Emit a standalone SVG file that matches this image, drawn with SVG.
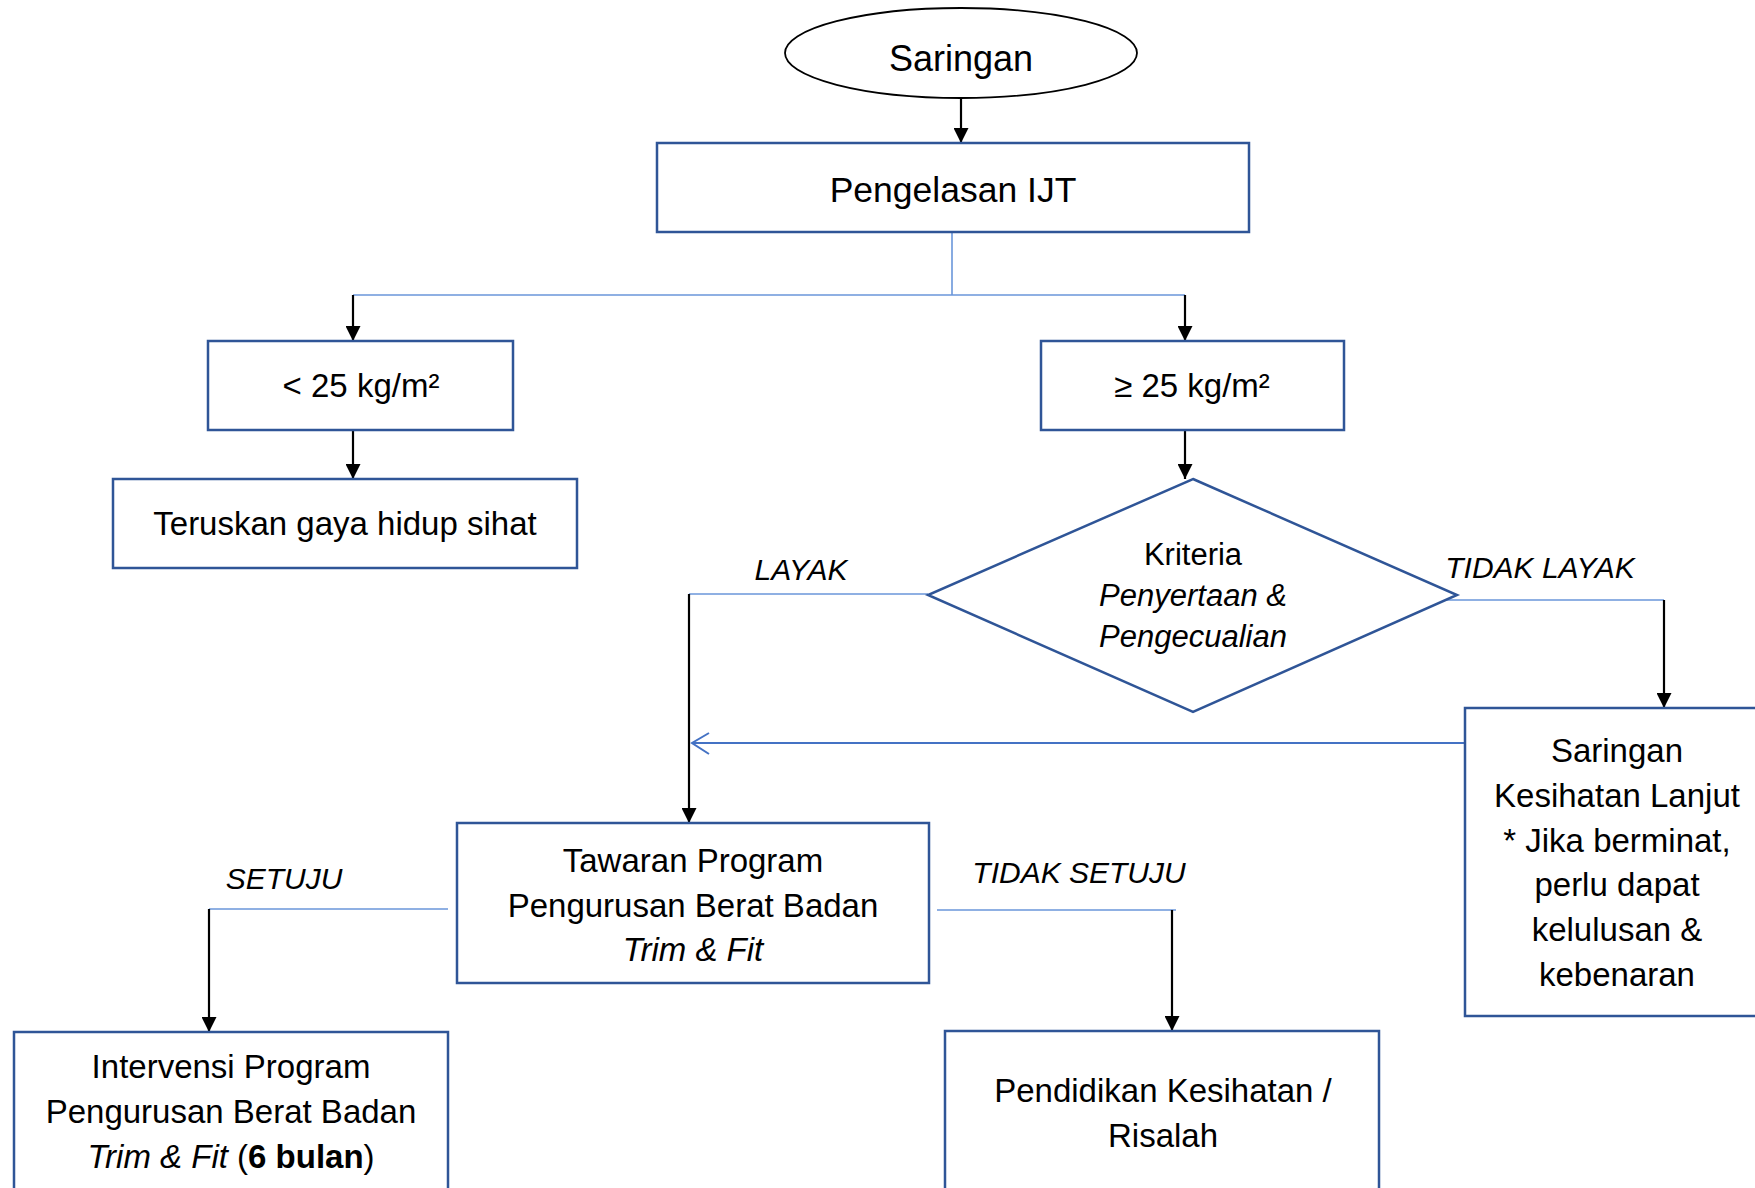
<svg xmlns="http://www.w3.org/2000/svg" width="1755" height="1188" viewBox="0 0 1755 1188">
<style>
.box{fill:#fff;stroke:#2F5597;stroke-width:2.5}
.t{font-family:"Liberation Sans",Arial,sans-serif;font-size:33px;fill:#000;text-anchor:middle}
.lbl{font-family:"Liberation Sans",Arial,sans-serif;font-size:30px;font-style:italic;fill:#000;text-anchor:middle}
.blue{fill:none;stroke:#6A96DA;stroke-width:1.6}
.blk{fill:none;stroke:#000;stroke-width:2.2}
</style>
<defs>
<marker id="ah" viewBox="0 0 15 15" refX="15" refY="7.5" markerWidth="15" markerHeight="15" markerUnits="userSpaceOnUse" orient="auto">
<path d="M0,0 L15,7.5 L0,15 z" fill="#000"/>
</marker>
</defs>
<rect width="1755" height="1188" fill="#fff"/>

<g id="connectors">
<line class="blk" x1="961" y1="98" x2="961" y2="143" marker-end="url(#ah)"/>
<polyline class="blue" points="952,232 952,295"/>
<line class="blue" x1="353" y1="295" x2="1185" y2="295"/>
<line class="blk" x1="353" y1="295" x2="353" y2="341" marker-end="url(#ah)"/>
<line class="blk" x1="1185" y1="295" x2="1185" y2="341" marker-end="url(#ah)"/>
<line class="blk" x1="353" y1="430" x2="353" y2="479" marker-end="url(#ah)"/>
<line class="blk" x1="1185" y1="430" x2="1185" y2="479" marker-end="url(#ah)"/>
<line class="blue" x1="689" y1="594" x2="928" y2="594"/>
<line class="blk" x1="689" y1="594" x2="689" y2="823" marker-end="url(#ah)"/>
<line class="blue" x1="1425" y1="600" x2="1664" y2="600"/>
<line class="blk" x1="1664" y1="600" x2="1664" y2="708" marker-end="url(#ah)"/>
<line x1="1465" y1="743" x2="692" y2="743" stroke="#4472C4" stroke-width="2"/>
<polyline points="709,733 692,743 709,754" fill="none" stroke="#4472C4" stroke-width="2"/>
<line class="blue" x1="209" y1="909" x2="448" y2="909"/>
<line class="blk" x1="209" y1="909" x2="209" y2="1032" marker-end="url(#ah)"/>
<line class="blue" x1="937" y1="910" x2="1176" y2="910"/>
<line class="blk" x1="1172" y1="910" x2="1172" y2="1031" marker-end="url(#ah)"/>
<text class="lbl" x="801" y="580">LAYAK</text>
<text class="lbl" x="1540" y="578">TIDAK LAYAK</text>
<text class="lbl" x="284" y="889">SETUJU</text>
<text class="lbl" x="1079" y="883">TIDAK SETUJU</text>
</g>

<g id="n-saringan">
<ellipse cx="961" cy="53" rx="176" ry="45" fill="#fff" stroke="#000" stroke-width="1.8"/>
<text class="t" x="961" y="71" style="font-size:36px">Saringan</text>
</g>

<g id="n-pengelasan">
<rect class="box" x="657" y="143" width="592" height="89"/>
<text class="t" x="953" y="202" style="font-size:35.5px">Pengelasan IJT</text>
</g>

<g id="n-kurang25">
<rect class="box" x="208" y="341" width="305" height="89"/>
<text class="t" x="361" y="397">&lt; 25 kg/m²</text>
</g>

<g id="n-teruskan">
<rect class="box" x="113" y="479" width="464" height="89"/>
<text class="t" x="345" y="535">Teruskan gaya hidup sihat</text>
</g>

<g id="n-lebih25">
<rect class="box" x="1041" y="341" width="303" height="89"/>
<text class="t" x="1192" y="397">≥ 25 kg/m²</text>
</g>

<g id="n-kriteria">
<polygon class="box" points="1193,479 1457,595 1193,712 928,595"/>
<text class="t" x="1193" y="565" style="font-size:31px">Kriteria</text>
<text class="t" x="1193" y="606" style="font-size:31px;font-style:italic">Penyertaan &amp;</text>
<text class="t" x="1193" y="647" style="font-size:31px;font-style:italic">Pengecualian</text>
</g>

<g id="n-saringan-lanjut">
<rect class="box" x="1465" y="708" width="300" height="308"/>
<text class="t" x="1617" y="762">Saringan</text>
<text class="t" x="1617" y="807">Kesihatan Lanjut</text>
<text class="t" x="1617" y="852">* Jika berminat,</text>
<text class="t" x="1617" y="896">perlu dapat</text>
<text class="t" x="1617" y="941">kelulusan &amp;</text>
<text class="t" x="1617" y="986">kebenaran</text>
</g>

<g id="n-tawaran">
<rect class="box" x="457" y="823" width="472" height="160"/>
<text class="t" x="693" y="872">Tawaran Program</text>
<text class="t" x="693" y="917">Pengurusan Berat Badan</text>
<text class="t" x="693" y="961" style="font-style:italic">Trim &amp; Fit</text>
</g>

<g id="n-intervensi">
<rect class="box" x="14" y="1032" width="434" height="180"/>
<text class="t" x="231" y="1078">Intervensi Program</text>
<text class="t" x="231" y="1123">Pengurusan Berat Badan</text>
<text class="t" x="231" y="1168"><tspan font-style="italic">Trim &amp; Fit</tspan> (<tspan font-weight="bold">6 bulan</tspan>)</text>
</g>

<g id="n-pendidikan">
<rect class="box" x="945" y="1031" width="434" height="180"/>
<text class="t" x="1163" y="1102">Pendidikan Kesihatan /</text>
<text class="t" x="1163" y="1147">Risalah</text>
</g>
</svg>
